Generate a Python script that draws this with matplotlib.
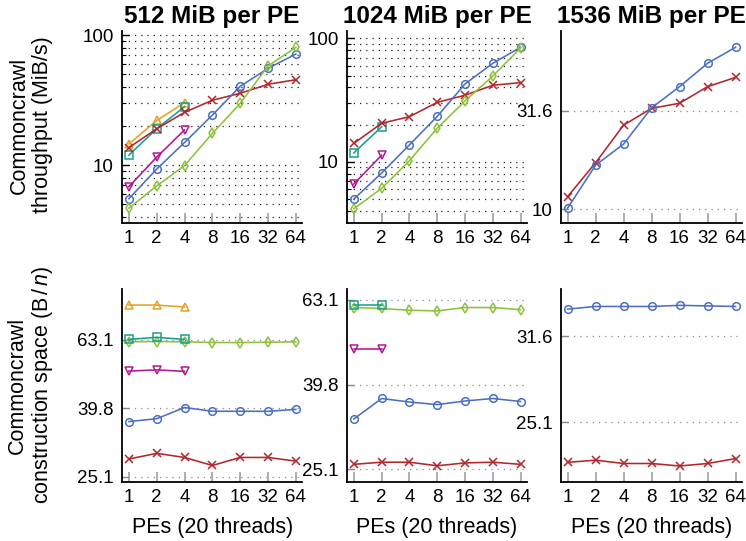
import matplotlib
matplotlib.use("Agg")
import matplotlib.pyplot as plt
from matplotlib.ticker import FixedLocator, NullFormatter


# =========================================================
# Data
# =========================================================

pes = [1, 2, 4, 8, 16, 32, 64]
pe_labels = ["1", "2", "4", "8", "16", "32", "64"]

titles = ["512 MiB per PE", "1024 MiB per PE", "1536 MiB per PE"]

# throughput (MiB/s), top row
tp_512_orange = [14.5, 22.0, 30.2]
tp_512_teal = [11.9, 19.0, 28.1]
tp_512_magenta = [6.8, 11.5, 18.6]
tp_512_red = [13.6, 19.0, 25.4, 31.5, 35.6, 41.8, 45.3]
tp_512_blue = [5.5, 9.3, 14.9, 24.2, 40.3, 55.4, 71.4]
tp_512_green = [4.65, 6.9, 9.9, 17.5, 29.8, 57.8, 80.4]

tp_1024_teal = [11.8, 19.2]
tp_1024_magenta = [6.6, 11.3]
tp_1024_red = [14.1, 20.5, 23.2, 30.3, 34.6, 41.7, 43.8]
tp_1024_blue = [4.98, 8.1, 13.7, 23.3, 42.7, 62.8, 84.7]
tp_1024_green = [4.16, 6.08, 10.2, 18.7, 31.1, 49.5, 83.6]

tp_1536_red = [11.55, 17.2, 26.7, 32.5, 34.5, 41.9, 46.7]
tp_1536_blue = [10.1, 16.7, 21.4, 32.7, 41.9, 55.1, 66.4]

# construction space (B/n), bottom row
sp_512_orange = [79.6, 79.6, 78.6]
sp_512_teal = [63.2, 64.1, 63.2]
sp_512_magenta = [51.1, 51.5, 51.0]
sp_512_green = [62.2, 62.3, 62.2, 61.9, 61.9, 62.0, 62.2]
sp_512_blue = [36.4, 37.1, 40.0, 39.0, 39.0, 39.0, 39.5]
sp_512_red = [28.3, 29.4, 28.6, 27.1, 28.6, 28.6, 27.9]

sp_1024_teal = [61.4, 61.4]
sp_1024_magenta = [48.2, 48.2]
sp_1024_green = [60.5, 60.2, 59.6, 59.4, 60.5, 60.5, 59.8]
sp_1024_blue = [33.0, 36.9, 36.2, 35.7, 36.4, 36.9, 36.3]
sp_1024_red = [25.8, 26.1, 26.1, 25.6, 26.0, 26.1, 25.8]

sp_1536_blue = [33.96, 34.2, 34.2, 34.2, 34.3, 34.25, 34.2]
sp_1536_red = [22.57, 22.7, 22.5, 22.5, 22.35, 22.5, 22.8]


# =========================================================
# Styles
# =========================================================

BLUE = "#4b6fc2"
RED = "#b3262b"
GREEN = "#8cc23c"
ORANGE = "#e8a024"
TEAL = "#17a090"
MAGENTA = "#b3178c"

STYLE = {
    "blue": (BLUE, "o"),
    "red": (RED, "x"),
    "green": (GREEN, "d"),
    "orange": (ORANGE, "^"),
    "teal": (TEAL, "s"),
    "magenta": (MAGENTA, "v"),
}

plt.rcParams["font.family"] = ["Liberation Sans", "DejaVu Sans"]
plt.rcParams["mathtext.fontset"] = "custom"
plt.rcParams["mathtext.it"] = "Liberation Sans:italic"
plt.rcParams["mathtext.rm"] = "Liberation Sans"

TICK_SIZE = 13.5

W, H = 746, 541
fig = plt.figure(figsize=(W / 100, H / 100), dpi=100)


def make_axes(x0, x1, y0, y1):
    return fig.add_axes([x0 / W, 1 - y1 / H, (x1 - x0) / W, (y1 - y0) / H])


def draw(ax, name, values):
    color, marker = STYLE[name]
    ax.plot(
        pes[:len(values)],
        values,
        color=color,
        marker=marker,
        markersize=5.5 if marker != "x" else 6,
        markerfacecolor="none",
        markeredgewidth=1.1,
        linewidth=1.15,
    )


def base_style(ax, ylim):
    ax.set_xscale("log", base=2)
    ax.set_yscale("log")
    ax.set_xlim(2 ** -0.235, 2 ** 6.22)
    ax.set_ylim(*ylim)
    ax.spines["top"].set_visible(False)
    ax.spines["right"].set_visible(False)
    ax.spines["left"].set_linewidth(1.3)
    ax.spines["bottom"].set_linewidth(1.3)
    ax.xaxis.set_major_locator(FixedLocator(pes))
    ax.xaxis.set_minor_locator(FixedLocator([]))
    ax.set_xticklabels(pe_labels)
    ax.tick_params(axis="x", which="major", direction="in", length=7,
                   width=1.3, color="#a8a8a8", labelsize=TICK_SIZE, pad=5)


def set_yticks_major(ax, ticks, labels, grid_color):
    ax.yaxis.set_major_locator(FixedLocator(ticks))
    ax.set_yticklabels(labels)
    ax.tick_params(axis="y", which="major", direction="in", length=5,
                   width=1, labelsize=TICK_SIZE, pad=6)
    for t in ticks:
        ax.axhline(t, color=grid_color, linewidth=0.9,
                   linestyle=(0, (1, 4)), zorder=0)


# =========================================================
# Axes
# =========================================================

ax_tl = make_axes(122.3, 302, 31, 223.3)
ax_tm = make_axes(347.3, 526.7, 31, 223.3)
ax_tr = make_axes(561, 741.7, 31, 223.3)
ax_bl = make_axes(122.3, 302, 289.3, 481.7)
ax_bm = make_axes(347.3, 526.7, 289.3, 482.3)
ax_br = make_axes(561, 741.7, 289.3, 482.3)

base_style(ax_tl, (3.56, 107.4))
base_style(ax_tm, (3.17, 114.8))
base_style(ax_tr, (8.46, 80.4))
base_style(ax_bl, (24.3, 88.5))
base_style(ax_bm, (23.4, 66.8))
base_style(ax_br, (21.4, 35.8))

# top-left and top-middle: dotted grid on every minor decade line
minor_vals = [4, 5, 6, 7, 8, 9, 20, 30, 40, 50, 60, 70, 80, 90]
for ax in (ax_tl, ax_tm):
    set_yticks_major(ax, [10, 100], ["10", "100"], "#222222")
    ax.yaxis.set_minor_locator(FixedLocator(minor_vals))
    ax.yaxis.set_minor_formatter(NullFormatter())
    ax.tick_params(axis="y", which="minor", direction="in", length=3,
                   width=0.8)
    for v in minor_vals:
        ax.axhline(v, color="#222222", linewidth=0.9,
                   linestyle=(0, (1, 4)), zorder=0)

set_yticks_major(ax_tr, [10, 31.6], ["10", "31.6"], "#888888")
set_yticks_major(ax_bl, [25.1, 39.8, 63.1], ["25.1", "39.8", "63.1"], "#888888")
set_yticks_major(ax_bm, [25.1, 39.8, 63.1], ["25.1", "39.8", "63.1"], "#888888")
set_yticks_major(ax_br, [25.1, 31.6], ["25.1", "31.6"], "#888888")

for ax in (ax_tr, ax_bl, ax_bm, ax_br):
    ax.yaxis.set_minor_locator(FixedLocator([]))
    ax.tick_params(axis="y", which="major", color="#888888")


# =========================================================
# Series
# =========================================================

draw(ax_tl, "orange", tp_512_orange)
draw(ax_tl, "teal", tp_512_teal)
draw(ax_tl, "magenta", tp_512_magenta)
draw(ax_tl, "red", tp_512_red)
draw(ax_tl, "blue", tp_512_blue)
draw(ax_tl, "green", tp_512_green)

draw(ax_tm, "teal", tp_1024_teal)
draw(ax_tm, "magenta", tp_1024_magenta)
draw(ax_tm, "red", tp_1024_red)
draw(ax_tm, "blue", tp_1024_blue)
draw(ax_tm, "green", tp_1024_green)

draw(ax_tr, "red", tp_1536_red)
draw(ax_tr, "blue", tp_1536_blue)

draw(ax_bl, "orange", sp_512_orange)
draw(ax_bl, "green", sp_512_green)
draw(ax_bl, "teal", sp_512_teal)
draw(ax_bl, "magenta", sp_512_magenta)
draw(ax_bl, "blue", sp_512_blue)
draw(ax_bl, "red", sp_512_red)

draw(ax_bm, "green", sp_1024_green)
draw(ax_bm, "teal", sp_1024_teal)
draw(ax_bm, "magenta", sp_1024_magenta)
draw(ax_bm, "blue", sp_1024_blue)
draw(ax_bm, "red", sp_1024_red)

draw(ax_br, "blue", sp_1536_blue)
draw(ax_br, "red", sp_1536_red)


# =========================================================
# Text
# =========================================================

for ax, title in zip((ax_tl, ax_tm, ax_tr), titles):
    ax.set_title(title, fontsize=17.5, fontweight="bold", pad=6)

for ax in (ax_bl, ax_bm, ax_br):
    ax.set_xlabel("PEs (20 threads)", fontsize=15.5, labelpad=8)

fig.text(31 / W, 1 - 125 / H, "Commoncrawl\nthroughput (MiB/s)",
         rotation=90, ha="center", va="center", fontsize=15.5,
         linespacing=1.15)
fig.text(31 / W, 1 - 385 / H, "Commoncrawl\nconstruction space (B$\\,/\\,n$)",
         rotation=90, ha="center", va="center", fontsize=15.5,
         linespacing=1.15)

fig.savefig("out.png", dpi=100)
